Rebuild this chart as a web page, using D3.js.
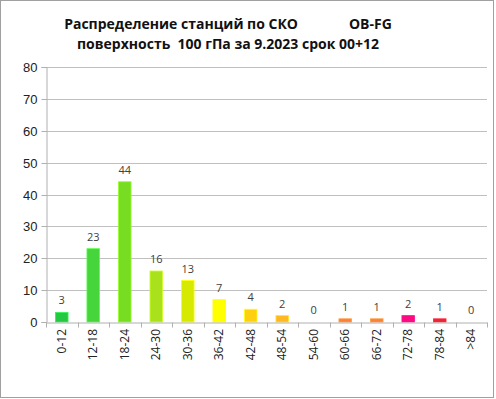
<!DOCTYPE html>
<html><head><meta charset="utf-8">
<script src="https://cdn.jsdelivr.net/npm/d3@7/dist/d3.min.js"></script>
<style>
body{margin:0;background:#fff;}
svg{display:block;font-family:"Open Sans","Liberation Sans",sans-serif;}
</style></head>
<body>
<svg id="c" width="496" height="399"></svg>
<script>
const categories = ["0-12","12-18","18-24","24-30","30-36","36-42","42-48","48-54","54-60","60-66","66-72","72-78","78-84",">84"];
const counts = [3,23,44,16,13,7,4,2,0,1,1,2,1,0];
const barColors = ["#26c841","#46d63b","#78dd22","#a9e21c","#d5ea00","#ffff00","#ffd010","#ffb822","#ff9933","#ff7f33","#ff7f33","#ff0a80","#ee2233","#cc0000"];
const yTicks = [0,10,20,30,40,50,60,70,80];
const titleLines = ["Распределение станций по СКО              OB-FG","поверхность  100 гПа за 9.2023 срок 00+12"];

const svg = d3.select("#c");
const W = 496, H = 399;
const m = {left:46, right:9, top:67, bottom:77};

svg.append("rect").attr("x",0.5).attr("y",0.5).attr("width",W-3).attr("height",H-2)
  .attr("fill","#fff").attr("stroke","#a0a0a0").attr("stroke-width",1);

const x = d3.scaleBand().domain(categories).range([m.left, W-m.right]).paddingInner(0.6).paddingOuter(0.3);
const xb = d3.scaleBand().domain(categories).range([m.left, W-m.right]);
const y = d3.scaleLinear().domain([0,80]).range([H-m.bottom, m.top]);

// gridlines
svg.append("g").selectAll("line").data(yTicks.filter(d=>d>0)).join("line")
  .attr("x1",m.left).attr("x2",W-m.right)
  .attr("y1",d=>Math.round(y(d))+0.5).attr("y2",d=>Math.round(y(d))+0.5)
  .attr("stroke","#c0c0c0").attr("stroke-width",1);

// y axis
const yAxis = d3.axisLeft(y).tickValues(yTicks).tickSize(5).tickPadding(4);
const gy = svg.append("g").attr("transform",`translate(${m.left+0.5},0)`).call(yAxis);
gy.select(".domain").attr("stroke","#b0b0b0");
gy.selectAll(".tick line").attr("stroke","#b0b0b0");
gy.selectAll(".tick text").attr("font-size",13).attr("fill","#222");
gy.selectAll(".tick").attr("transform",d=>`translate(0,${Math.round(y(d))+0.5})`);

// bars
svg.append("g").selectAll("rect").data(counts).join("rect")
  .attr("x",(d,i)=>x(categories[i]))
  .attr("y",d=>y(d))
  .attr("width",x.bandwidth())
  .attr("height",d=>y(0)-y(d))
  .attr("fill",(d,i)=>barColors[i])
  .attr("stroke",(d,i)=>d3.color(barColors[i]).brighter(0.6))
  .attr("stroke-width",d=>d>0?0.8:0);

// x axis
const xAxis = d3.axisBottom(xb).tickSize(0).tickFormat("");
const gx = svg.append("g").attr("transform",`translate(0,${Math.round(y(0))+0.5})`).call(xAxis);
gx.select(".domain").attr("stroke","#b0b0b0");
const bounds = categories.map(c=>xb(c)).concat([W-m.right]);
gx.selectAll(".bt").data(bounds).join("line").attr("class","bt")
  .attr("x1",d=>Math.round(d)+0.5).attr("x2",d=>Math.round(d)+0.5)
  .attr("y1",0).attr("y2",5).attr("stroke","#b0b0b0");

// x labels
svg.append("g").selectAll("text").data(categories).join("text")
  .attr("transform",d=>`translate(${xb(d)+xb.bandwidth()/2+4},${y(0)+7}) rotate(-90)`)
  .attr("text-anchor","end").attr("font-size",12).attr("fill","#222").text(d=>d);

// value labels
svg.append("g").selectAll("text").data(counts).join("text")
  .attr("x",(d,i)=>xb(categories[i])+xb.bandwidth()/2)
  .attr("y",d=>y(d)-8)
  .attr("text-anchor","middle").attr("font-size",11).attr("fill","#404040").text(d=>d);

// title
svg.append("g").selectAll("text").data(titleLines).join("text")
  .attr("x",228).attr("y",(d,i)=>29+i*20)
  .attr("text-anchor","middle").attr("font-size",14).attr("font-weight","bold")
  .attr("fill","#111").attr("xml:space","preserve").style("white-space","pre").text(d=>d);
</script>
</body></html>
